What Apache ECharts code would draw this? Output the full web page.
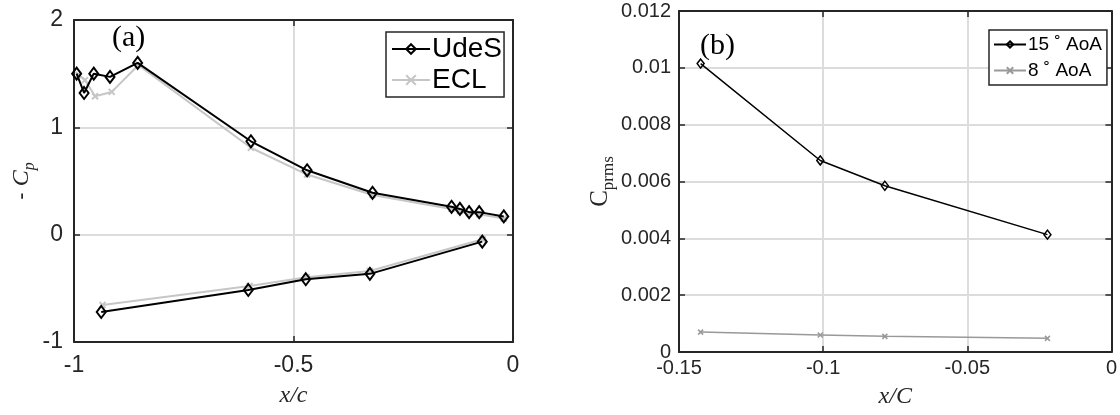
<!DOCTYPE html>
<html>
<head>
<meta charset="utf-8">
<style>
  html, body { margin: 0; padding: 0; background: #fff; }
  #chart { width: 1120px; height: 415px; }
</style>
<script src="https://cdn.jsdelivr.net/npm/echarts@6/dist/echarts.min.js"></script>
</head>
<body>
<div id="chart"></div>
<script>
// (a) pressure coefficient along the chord, upper and lower surfaces
const udesUpperX = [-0.994, -0.977, -0.955, -0.918, -0.855, -0.597, -0.469, -0.320, -0.140, -0.121, -0.100, -0.077, -0.021];
const udesUpperY = [1.50, 1.32, 1.50, 1.47, 1.60, 0.87, 0.60, 0.39, 0.26, 0.24, 0.21, 0.21, 0.17];
const udesLowerX = [-0.938, -0.603, -0.472, -0.326, -0.070];
const udesLowerY = [-0.72, -0.515, -0.415, -0.365, -0.065];
const eclUpperX = [-0.990, -0.975, -0.952, -0.914, -0.853, -0.597, -0.469, -0.320, -0.140, -0.121, -0.100, -0.077, -0.021];
const eclUpperY = [1.49, 1.44, 1.29, 1.33, 1.58, 0.81, 0.56, 0.37, 0.24, 0.22, 0.20, 0.19, 0.15];
const eclLowerX = [-0.935, -0.600, -0.470, -0.326, -0.069];
const eclLowerY = [-0.655, -0.478, -0.397, -0.338, -0.043];

// (b) RMS pressure fluctuation at the probe positions
const probeX = [-0.1425, -0.1010, -0.0786, -0.0222];
const aoa15 = [0.01015, 0.00674, 0.00585, 0.00413];
const aoa8 = [0.00070, 0.00060, 0.00055, 0.00048];

const leftXTicks = { min: -1, max: 0, interval: 0.5 };
const leftYTicks = { min: -1, max: 2, interval: 1 };
const rightXTicks = { min: -0.15, max: 0, interval: 0.05 };
const rightYTicks = { min: 0, max: 0.012, interval: 0.002 };

const zip = (xs, ys) => xs.map((x, i) => [x, ys[i]]);

const AXIS = '#262626';
const GRIDLINE = '#dcdcdc';
const SANS = '"Liberation Sans", Arial, Helvetica, sans-serif';
const SERIF = '"Liberation Serif", "DejaVu Serif", serif';

const diamond = 'diamond';
const cross = 'path://M0,0L10,10M10,0L0,10';

const fmt = v => String(parseFloat(v.toFixed(4)));
const frameLine = { show: true, onZero: false, lineStyle: { color: AXIS, width: 2 } };
const innerTick = { show: true, inside: true, length: 6, lineStyle: { color: AXIS, width: 1.5 } };

function boxAxisX(grid, t, fs, margin, name, nameGap, nameSize) {
  return [
    {
      type: 'value', gridIndex: grid, position: 'bottom',
      min: t.min, max: t.max, interval: t.interval,
      axisLine: frameLine, axisTick: innerTick,
      axisLabel: { fontFamily: SANS, fontSize: fs, color: '#262626', margin: margin, formatter: fmt },
      splitLine: { show: true, lineStyle: { color: GRIDLINE, width: 2 } },
      name: name, nameLocation: 'middle', nameGap: nameGap,
      nameTextStyle: { fontFamily: SERIF, fontStyle: 'italic', fontSize: nameSize, color: '#262626' }
    },
    {
      type: 'value', gridIndex: grid, position: 'top',
      min: t.min, max: t.max, interval: t.interval,
      axisLine: frameLine, axisTick: innerTick,
      axisLabel: { show: false }, splitLine: { show: false }
    }
  ];
}

function boxAxisY(grid, t, fs, margin, name, nameGap, rich) {
  return [
    {
      type: 'value', gridIndex: grid, position: 'left',
      min: t.min, max: t.max, interval: t.interval,
      axisLine: frameLine, axisTick: innerTick,
      axisLabel: { fontFamily: SANS, fontSize: fs, color: '#262626', margin: margin, formatter: fmt },
      splitLine: { show: true, lineStyle: { color: GRIDLINE, width: 2 } },
      name: name, nameLocation: 'middle', nameGap: nameGap, nameRotate: 90,
      nameTextStyle: { fontFamily: SERIF, fontSize: 20, color: '#262626', rich: rich }
    },
    {
      type: 'value', gridIndex: grid, position: 'right',
      min: t.min, max: t.max, interval: t.interval,
      axisLine: frameLine, axisTick: innerTick,
      axisLabel: { show: false }, splitLine: { show: false }
    }
  ];
}

const subRich = {
  d: { fontFamily: SANS, fontSize: 22, color: '#262626', lineHeight: 32 },
  c: { fontFamily: SERIF, fontStyle: 'italic', fontSize: 24, color: '#262626', lineHeight: 32 },
  s: { fontFamily: SERIF, fontStyle: 'italic', fontSize: 16, color: '#262626', verticalAlign: 'bottom', lineHeight: 16 },
  cr: { fontFamily: SERIF, fontSize: 25, color: '#262626', lineHeight: 34 },
  sr: { fontFamily: SERIF, fontSize: 17, color: '#262626', verticalAlign: 'bottom', lineHeight: 17 }
};

function lineSeries(name, data, xi, yi, color, width, symbol, size, z) {
  return {
    type: 'line', name: name, data: data, xAxisIndex: xi, yAxisIndex: yi,
    symbol: symbol, symbolSize: size, showSymbol: true,
    lineStyle: { color: color, width: width },
    itemStyle: { color: 'rgba(255,255,255,0)', borderColor: color, borderWidth: width },
    emphasis: { disabled: true }, animation: false, z: z
  };
}

const option = {
  animation: false,
  backgroundColor: '#fff',
  grid: [
    { left: 74, right: 607, top: 20, bottom: 73, containLabel: false },
    { left: 679, right: 8, top: 11, bottom: 63, containLabel: false }
  ],
  xAxis: [
    ...boxAxisX(0, leftXTicks, 23, 12, 'x/c', 42, 24),
    ...boxAxisX(1, rightXTicks, 20, 6, 'x/C', 33, 24)
  ],
  yAxis: [
    ...boxAxisY(0, leftYTicks, 23, 11, '{d|- }{c|C}{s|p}', 36, subRich),
    ...boxAxisY(1, rightYTicks, 20, 8, '{cr|C}{sr|prms}', 60, subRich)
  ],
  legend: [
    {
      data: ['UdeS', 'ECL'], left: 386, top: 32, orient: 'vertical',
      borderColor: AXIS, borderWidth: 1.5, backgroundColor: '#fff',
      padding: [3, 2, 3, 5], itemGap: 3, itemWidth: 38, itemHeight: 12,
      textStyle: { fontFamily: SANS, fontSize: 28, color: '#000', padding: [0, 0, 0, -3] },
      selectedMode: false
    },
    {
      data: ['15˚ AoA', '8˚ AoA'], left: 989, top: 30, orient: 'vertical',
      borderColor: AXIS, borderWidth: 1.5, backgroundColor: '#fff',
      padding: [5, 5, 5, 4], itemGap: 7, itemWidth: 32, itemHeight: 8,
      formatter: n => n.replace('˚', ' ˚'),
      textStyle: { fontFamily: SANS, fontSize: 19, color: '#000', padding: [0, 0, 0, -3] },
      selectedMode: false
    }
  ],
  graphic: [
    { type: 'text', left: 112, top: 23, z: 100, style: { text: '(a)', font: '30px "Liberation Serif", serif', fill: '#000' } },
    { type: 'text', left: 700, top: 31, z: 100, style: { text: '(b)', font: '30px "Liberation Serif", serif', fill: '#000' } }
  ],
  series: [
    lineSeries('ECL', zip(eclUpperX, eclUpperY), 0, 0, '#c6c6c6', 2, cross, 6, 2),
    lineSeries('ECL', zip(eclLowerX, eclLowerY), 0, 0, '#c6c6c6', 2, cross, 6, 2),
    lineSeries('UdeS', zip(udesUpperX, udesUpperY), 0, 0, '#000000', 2, diamond, [9, 12], 3),
    lineSeries('UdeS', zip(udesLowerX, udesLowerY), 0, 0, '#000000', 2, diamond, [9, 12], 3),
    lineSeries('15˚ AoA', zip(probeX, aoa15), 2, 2, '#000000', 1.5, diamond, [7, 9], 3),
    lineSeries('8˚ AoA', zip(probeX, aoa8), 2, 2, '#999999', 1.5, cross, 5, 2)
  ]
};

const chart = echarts.init(document.getElementById('chart'), null, { renderer: 'canvas' });
chart.setOption(option);
</script>
</body>
</html>
